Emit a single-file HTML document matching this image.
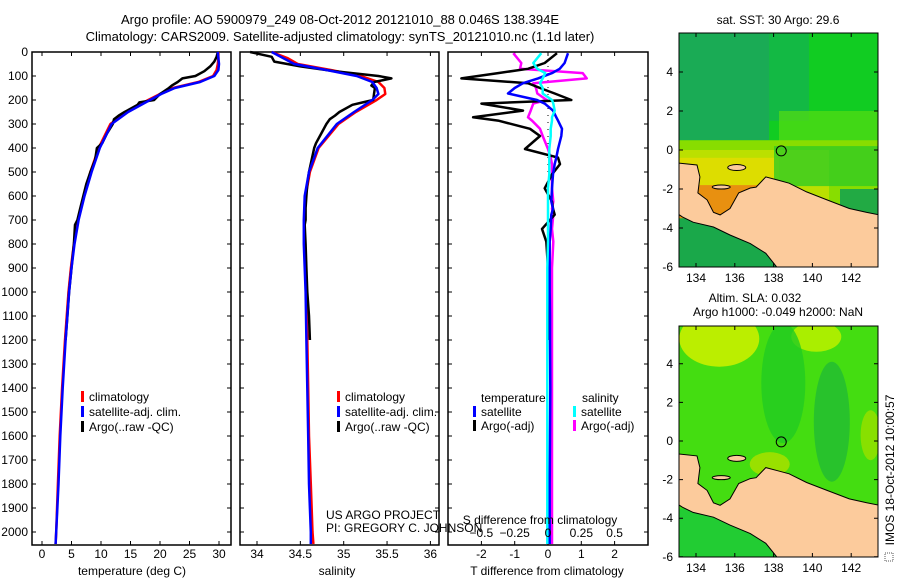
<!DOCTYPE html>
<html><head><meta charset="utf-8"><style>
body{margin:0;background:#fff;}
svg{display:block;font-family:"Liberation Sans",sans-serif;}
text{font-size:12px;fill:#000;}
</style></head><body>
<svg id="c" width="900" height="580" viewBox="0 0 900 580">
<g>
<text x="340" y="24" text-anchor="middle" style="font-size:13px">Argo profile: AO 5900979_249 08-Oct-2012 20121010_88 0.046S 138.394E</text>
<text x="340" y="41" text-anchor="middle" style="font-size:13px">Climatology: CARS2009. Satellite-adjusted climatology: synTS_20121010.nc (1.1d later)</text>
</g>
<g id="maps"></g>
<g id="panels"></g>
<text transform="translate(894,470) rotate(-90)" text-anchor="middle">IMOS 18-Oct-2012 10:00:57</text>
<rect x="885" y="553" width="8" height="8" fill="none" stroke="#555" stroke-dasharray="1,1"/>
</svg>
<script>
const climDepth=[0,25,50,75,100,125,150,175,200,250,300,400,500,600,700,800,900,1000,1200,1400,1600,1800,2000,2050];
const tempClim=[29.9,29.9,29.8,29.6,29.0,26.5,22.2,20.0,18.0,14.3,11.6,9.6,8.2,7.1,6.1,5.4,4.9,4.5,3.9,3.4,3.0,2.7,2.4,2.3];
const tempSat=[29.8,29.9,30.0,29.9,29.2,26.8,22.5,20.2,18.3,14.6,11.8,9.8,8.4,7.2,6.2,5.5,5.0,4.6,4.0,3.5,3.1,2.8,2.4,2.3];
const salClim=[34.17,34.35,34.47,34.85,35.2,35.4,35.47,35.48,35.38,35.14,34.94,34.71,34.61,34.56,34.55,34.55,34.56,34.57,34.58,34.59,34.6,34.62,34.64,34.65];
const salSat=[34.17,34.3,34.43,34.8,35.15,35.33,35.38,35.4,35.33,35.12,34.92,34.7,34.6,34.55,34.54,34.54,34.55,34.56,34.57,34.58,34.59,34.6,34.62,34.62];
const argoDepth=[0,20,40,60,80,100,110,125,140,150,175,200,210,220,250,265,280,300,340,380,400,450,500,550,600,650,700,720,800,900,1000,1100,1200];
const tempArgo=[29.8,29.6,29.2,28.5,27.5,26,23.8,23.0,22.0,21.5,20,19,16.5,16.2,14,13,12.2,12,11,10.2,9.3,9,8.2,7.5,7.0,6.5,6.0,5.6,5.4,5.0,4.6,4.3,4.0];
const salArgo=[33.92,34.17,34.2,34.5,34.9,35.4,35.55,35.35,35.32,35.36,35.35,35.34,35.22,35.1,34.95,34.9,34.84,34.8,34.74,34.68,34.66,34.63,34.6,34.58,34.57,34.56,34.56,34.55,34.56,34.57,34.58,34.6,34.61];
const diffDepth=[5,46,70,88,110,130,150,173,200,215,244,272,286,320,350,404,440,467,510,568,623,653,678,737,790,900,1000,1100,1200,1400,1600,1800,2000,2050];
const tDiffSat=[0.6,0.5,0.35,0.12,-0.3,-0.75,-1.0,-1.2,-0.33,-0.1,0.15,0.25,0.3,0.42,0.4,0.3,0.25,0.2,0.15,0.12,0.1,0.15,0.1,0.08,0.05,0.05,0.05,0.06,0.06,0.07,0.06,0.05,0.05,0.05];
const tDiffArgo=[0.27,-0.1,-0.6,-1.5,-2.6,-0.6,-0.24,0.2,0.7,-2.0,-0.75,-2.25,-1.5,-0.54,-0.24,-0.69,0.3,0.36,0.12,-0.1,0.12,0.15,0.2,-0.18,-0.05,0.0,0.02,0.03,0.03,null,null,null,null,null];
const sDiffSat=[-0.05,-0.11,-0.08,-0.02,-0.04,-0.06,-0.04,-0.04,0.03,0.04,0.05,0.03,0.03,0.02,0.02,0.01,0.01,0.01,0.01,0,0,0,0,0,0,-0.005,-0.005,-0.005,-0.005,-0.005,-0.005,-0.005,-0.005,-0.005];
const sDiffArgo=[-0.26,-0.2,-0.21,0.26,0.29,-0.11,-0.09,-0.08,-0.01,-0.11,-0.13,-0.15,-0.12,-0.06,-0.04,0,0.02,0.03,0.03,0.03,0.04,0.03,0.04,0.03,0.04,0.03,0.03,0.03,0.03,0.03,0.03,0.03,0.03,0.03];
const depthTicks=[0,100,200,300,400,500,600,700,800,900,1000,1100,1200,1300,1400,1500,1600,1700,1800,1900,2000];
const tempTicks=[0,5,10,15,20,25,30];
const salTicks=[34,34.5,35,35.5,36];
const tDiffTicks=[-2,-1,0,1,2];
const sDiffTicks=[-0.5,-0.25,0,0.25,0.5];
const latTicks=[4,2,0,-2,-4,-6];
const lonTicks=[134,136,138,140,142];
const argoLon=138.394, argoLat=-0.046;
const coastLon=[133.1,134.05,134.2,134.1,134.57,134.9,135.24,135.75,136.2,136.8,137.1,137.6,138.2,138.8,139.7,140.75,141.9,142.8,143.45,143.45,138.2,137.6,136.8,135.75,134.9,133.85,133.3,133.1];
const coastLat=[-0.67,-0.77,-1.38,-2.2,-2.56,-3.2,-3.33,-3.0,-2.2,-1.95,-1.9,-1.38,-1.54,-1.7,-2.15,-2.56,-3.0,-3.2,-3.33,-6.05,-6.05,-5.3,-4.8,-4.36,-3.95,-3.7,-3.43,-3.3];

const NS='http://www.w3.org/2000/svg';
const svgEl=document.getElementById('c');
const P=document.getElementById('panels');
const M=document.getElementById('maps');
function mk(tag,at,par){const e=document.createElementNS(NS,tag);for(const k in at)e.setAttribute(k,at[k]);(par||P).appendChild(e);return e;}
const Y0=52, YK=0.24;
const yD=d=>Y0+d*YK;
const yTop=52,yBot=545;
const xT=v=>42+v*5.9;
const xS=v=>257+(v-34)*86.7;
const xDT=v=>548+v*33.3;
const xDS=v=>548+v*133.3;

function frame(x0,x1,name){
  const r=mk('rect',{x:x0,y:yTop,width:x1-x0,height:yBot-yTop,fill:'#fff',stroke:'#000','stroke-width':1.5});
  
  
  depthTicks.forEach(d=>{
    const t=mk('path',{d:`M${x0},${yD(d)}h4M${x1},${yD(d)}h-4`,stroke:'#000'});
    
    
  });
}
function xticks(vals,fx,ly,name){
  vals.forEach(v=>{
    const t=mk('path',{d:`M${fx(v)},${yBot}v-4M${fx(v)},${yTop}v4`,stroke:'#000'});
    
    
    if(ly){const l=mk('text',{x:fx(v),y:ly,'text-anchor':'middle'});l.textContent=String(v);
    
    }
  });
}
function line(depths,vals,fx,color,name,w){
  let d='';let pen=false;
  depths.forEach((dd,i)=>{const v=vals[i];if(v===null||v===undefined){pen=false;return;}
    d+=(pen?'L':'M')+fx(v).toFixed(1)+','+yD(dd).toFixed(1);pen=true;});
  const p=mk('path',{d:d,fill:'none',stroke:color,'stroke-width':w||2.5,'stroke-linejoin':'round'});
  
  
}
function txt(x,y,s,name,anchor){const t=mk('text',{x:x,y:y,'text-anchor':anchor||'start'});t.textContent=s;
  
  return t;}
function legend(x,y,color,s,name){
  const r=mk('rect',{x:x,y:y-10,width:3,height:11,fill:color});
  
  
  txt(x+8,y,s,name);
}

// temperature panel
frame(32,231,'temperature-panel');
xticks(tempTicks,xT,558,'temperature-axis');
depthTicks.forEach(d=>txt(28,yD(d)+4,String(d),'depth-tick-label','end'));
line(climDepth,tempClim,xT,'#f00','temperature-climatology-line');
line(argoDepth,tempArgo,xT,'#000','temperature-argo-line');
line(climDepth,tempSat,xT,'#00f','temperature-satellite-line');
txt(132,575,'temperature (deg C)','temperature-axis-title','middle');
legend(81,401,'#f00','climatology','temp-legend-climatology');
legend(81,416,'#00f','satellite-adj. clim.','temp-legend-satellite');
legend(81,431,'#000','Argo(..raw -QC)','temp-legend-argo');

// salinity panel
frame(240,439,'salinity-panel');
xticks(salTicks,xS,558,'salinity-axis');
line(climDepth,salClim,xS,'#f00','salinity-climatology-line');
line(argoDepth,salArgo,xS,'#000','salinity-argo-line');
line(climDepth,salSat,xS,'#00f','salinity-satellite-line');
txt(337,575,'salinity','salinity-axis-title','middle');
legend(337,401,'#f00','climatology','sal-legend-climatology');
legend(337,416,'#00f','satellite-adj. clim.','sal-legend-satellite');
legend(337,431,'#000','Argo(..raw -QC)','sal-legend-argo');

// difference panel
frame(448,648,'difference-panel');
xticks(tDiffTicks,xDT,558,'t-diff-axis');
const zl=mk('path',{d:`M${xDT(0)},${yTop}V${yD(500)}`,stroke:'#000','stroke-dasharray':'1,6'});


line(diffDepth,sDiffArgo,xDS,'#f0f','s-diff-argo-line');
line(diffDepth,tDiffArgo,xDT,'#000','t-diff-argo-line');
line(diffDepth,tDiffSat,xDT,'#00f','t-diff-satellite-line');
line(diffDepth,sDiffSat,xDS,'#0ff','s-diff-satellite-line');
sDiffTicks.forEach(v=>txt(xDS(v),537,String(v).replace('-','\u2212'),'s-diff-tick-label','middle'));
txt(540,524,'S difference from climatology','s-diff-axis-title','middle');
txt(547,575,'T difference from climatology','t-diff-axis-title','middle');
txt(481,402,'temperature','diff-legend-temperature-header');
txt(582,402,'salinity','diff-legend-salinity-header');
legend(473,416,'#00f','satellite','diff-legend-t-satellite');
legend(473,430,'#000','Argo(-adj)','diff-legend-t-argo');
legend(573,416,'#0ff','satellite','diff-legend-s-satellite');
legend(573,430,'#f0f','Argo(-adj)','diff-legend-s-argo');
txt(326,519,'US ARGO PROJECT','project-label');
txt(326,532,'PI: GREGORY C. JOHNSON','pi-label');

// maps
function map(y0,y1,lat0y,k,kind){
  const x0=679,x1=878;
  const lx=l=>696+(l-134)*19.4, ly=l=>lat0y-l*k;
  const g=mk('g',{},M);
  
  
  const id='clip'+kind;
  const cp=mk('clipPath',{id:id},g);mk('rect',{x:x0,y:y0,width:x1-x0,height:y1-y0},cp);
  const inner=mk('g',{'clip-path':`url(#${id})`},g);
  if(kind==='sst'){
    mk('rect',{x:x0,y:y0,width:x1-x0,height:y1-y0,fill:'#11cc22'},inner);
    mk('rect',{x:x0,y:y0,width:90,height:ly(0.5)-y0,fill:'#1aab55'},inner);
    mk('rect',{x:x0+90,y:y0,width:40,height:ly(1.5)-y0,fill:'#13b944'},inner);
    mk('rect',{x:x0+100,y:ly(2),width:120,height:40,fill:'#55dd11',opacity:0.7},inner);
    mk('rect',{x:x0,y:ly(0.5),width:x1-x0,height:ly(-3.5)-ly(0.5),fill:'#88dd00'},inner);
    mk('rect',{x:x0,y:ly(0),width:150,height:50,fill:'#bbe000'},inner);
    mk('rect',{x:x0,y:ly(-0.4),width:100,height:30,fill:'#dddd00'},inner);
    mk('rect',{x:x0+95,y:ly(0.2),width:104,height:40,fill:'#33cc22',opacity:0.8},inner);
    mk('rect',{x:x0,y:ly(-1.8),width:90,height:40,fill:'#e89010'},inner);
    mk('rect',{x:x0,y:ly(-3.5),width:110,height:60,fill:'#1aa84a'},inner);
    mk('rect',{x:840,y:ly(-2),width:38,height:30,fill:'#22aa44'},inner);
  } else {
    mk('rect',{x:x0,y:y0,width:x1-x0,height:y1-y0,fill:'#44dd11'},inner);
    mk('ellipse',{cx:lx(135.2),cy:ly(5.3),rx:40,ry:28,fill:'#bbee00'},inner);
    mk('ellipse',{cx:lx(140.2),cy:ly(5.4),rx:25,ry:15,fill:'#aaee00'},inner);
    mk('ellipse',{cx:lx(138.5),cy:ly(3),rx:22,ry:60,fill:'#22cc22',opacity:0.8},inner);
    mk('ellipse',{cx:lx(141),cy:ly(1),rx:18,ry:60,fill:'#22bb33',opacity:0.8},inner);
    mk('ellipse',{cx:lx(143),cy:ly(0.3),rx:10,ry:25,fill:'#88e000'},inner);
    mk('ellipse',{cx:lx(137.8),cy:ly(-1.2),rx:20,ry:12,fill:'#99e000'},inner);
    mk('rect',{x:x0,y:ly(-3.5),width:110,height:60,fill:'#22cc33'},inner);
  }
  const pts=coastLon.map((l,i)=>lx(l).toFixed(1)+','+ly(coastLat[i]).toFixed(1)).join(' ');
  const land=mk('polygon',{points:pts,fill:'#fccb9c',stroke:'#000','stroke-width':1},inner);
  
  
  mk('ellipse',{cx:lx(136.1),cy:ly(-0.9),rx:9,ry:3,fill:'#fccb9c',stroke:'#000'},inner);
  mk('ellipse',{cx:lx(135.3),cy:ly(-1.9),rx:9,ry:2,fill:'#fccb9c',stroke:'#000'},inner);
  const c=mk('circle',{cx:lx(argoLon),cy:ly(argoLat),r:5,fill:'none',stroke:'#000'},g);
  
  
  mk('rect',{x:x0,y:y0,width:x1-x0,height:y1-y0,fill:'none',stroke:'#000'},g);
  latTicks.forEach(l=>{
    mk('path',{d:`M${x0},${ly(l)}h4M${x1},${ly(l)}h-4`,stroke:'#000'},g);
    const t=mk('text',{x:x0-6,y:ly(l)+4,'text-anchor':'end'},g);t.textContent=String(l);
    
    
  });
  lonTicks.forEach(l=>{
    mk('path',{d:`M${lx(l)},${y1}v-4M${lx(l)},${y0}v4`,stroke:'#000'},g);
    const t=mk('text',{x:lx(l),y:y1+15,'text-anchor':'middle'},g);t.textContent=String(l);
    
    
  });
}
map(33,267,150,19.5,'sst');
map(326,557,441,19.3,'sla');
function mt(x,y,s,n){const t=mk('text',{x:x,y:y,'text-anchor':'middle'},M);t.textContent=s;
  
  }
mt(778,24,'sat. SST: 30 Argo: 29.6','sst-map-title');
mt(755,302,'Altim. SLA: 0.032','sla-map-title');
mt(778,316,'Argo h1000: -0.049 h2000: NaN','sla-map-subtitle');
</script>
</body></html>
